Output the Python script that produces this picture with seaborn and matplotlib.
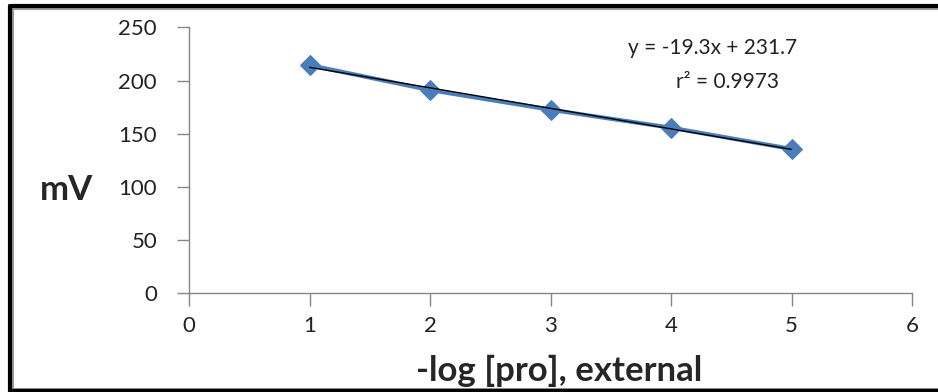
import numpy as np
import pandas as pd
import seaborn as sns
import matplotlib.pyplot as plt
from matplotlib.lines import Line2D

# values
log_pro = [1, 2, 3, 4, 5]
mv = [214.5, 191, 172.5, 155.5, 135.5]
x_ticks = [0, 1, 2, 3, 4, 5, 6]
y_ticks = [0, 50, 100, 150, 200, 250]
eq_text = "y = -19.3x + 231.7"
r2_text = "r² = 0.9973"

df = pd.DataFrame({"x": log_pro, "mV": mv})

sns.set_theme(style="white")
plt.rcParams['font.family'] = ['Lato', 'DejaVu Sans']

W, H = 938, 392
fig = plt.figure(figsize=(W / 100, H / 100), dpi=100)
ax = fig.add_axes([189 / W, 1 - 292.7 / H, (912 - 189) / W, (292.7 - 27.5) / H])

sns.lineplot(data=df, x="x", y="mV", ax=ax, color="#4a7ebb", linewidth=3,
             marker="D", markersize=10, markeredgecolor="#4a7ebb")
sns.regplot(data=df, x="x", y="mV", ax=ax, scatter=False, ci=None,
            color="black", line_kws={"linewidth": 1})

ax.set_xlim(0, 6)
ax.set_ylim(0, 250)
ax.set_xticks(x_ticks)
ax.set_yticks(y_ticks)
ax.set_xlabel("")
ax.set_ylabel("")
for s in ["top", "right"]:
    ax.spines[s].set_visible(False)
for s in ["left", "bottom"]:
    ax.spines[s].set_color("#868686")
    ax.spines[s].set_linewidth(1)
ax.tick_params(axis="both", direction="out", length=9, width=1, color="#868686",
               labelsize=16, labelcolor="#222222", bottom=True, left=True)
ax.tick_params(axis="y", pad=14)
ax.tick_params(axis="x", pad=8)

fig.text(713 / W, 1 - 48 / H, eq_text, ha="center", va="center", fontsize=15, color="#222222")
fig.text(727 / W, 1 - 82 / H, r2_text, ha="center", va="center", fontsize=15, color="#222222")
fig.text(67 / W, 1 - 190 / H, "mV", ha="center", va="center", fontsize=25, fontweight="bold")
fig.text(559 / W, 1 - 371 / H, "-log [pro], external", ha="center", va="center",
         fontsize=25, fontweight="bold")

# chart border (left, top, bottom only)
def px_line(x0, y0, x1, y1, color, lw):
    fig.add_artist(Line2D([x0 / W, x1 / W], [1 - y0 / H, 1 - y1 / H],
                          transform=fig.transFigure, color=color, linewidth=lw))

px_line(13, 8.5, W, 8.5, "#999999", 1.5)
px_line(13, 8.5, 13, 389, "#999999", 1.5)
px_line(13, 388.5, W, 388.5, "#999999", 1.5)
px_line(10, 6, W, 6, "black", 3)
px_line(10, 6, 10, H, "black", 3)
px_line(10, 391, W, 391, "black", 3)

fig.savefig("out.png", dpi=100)
